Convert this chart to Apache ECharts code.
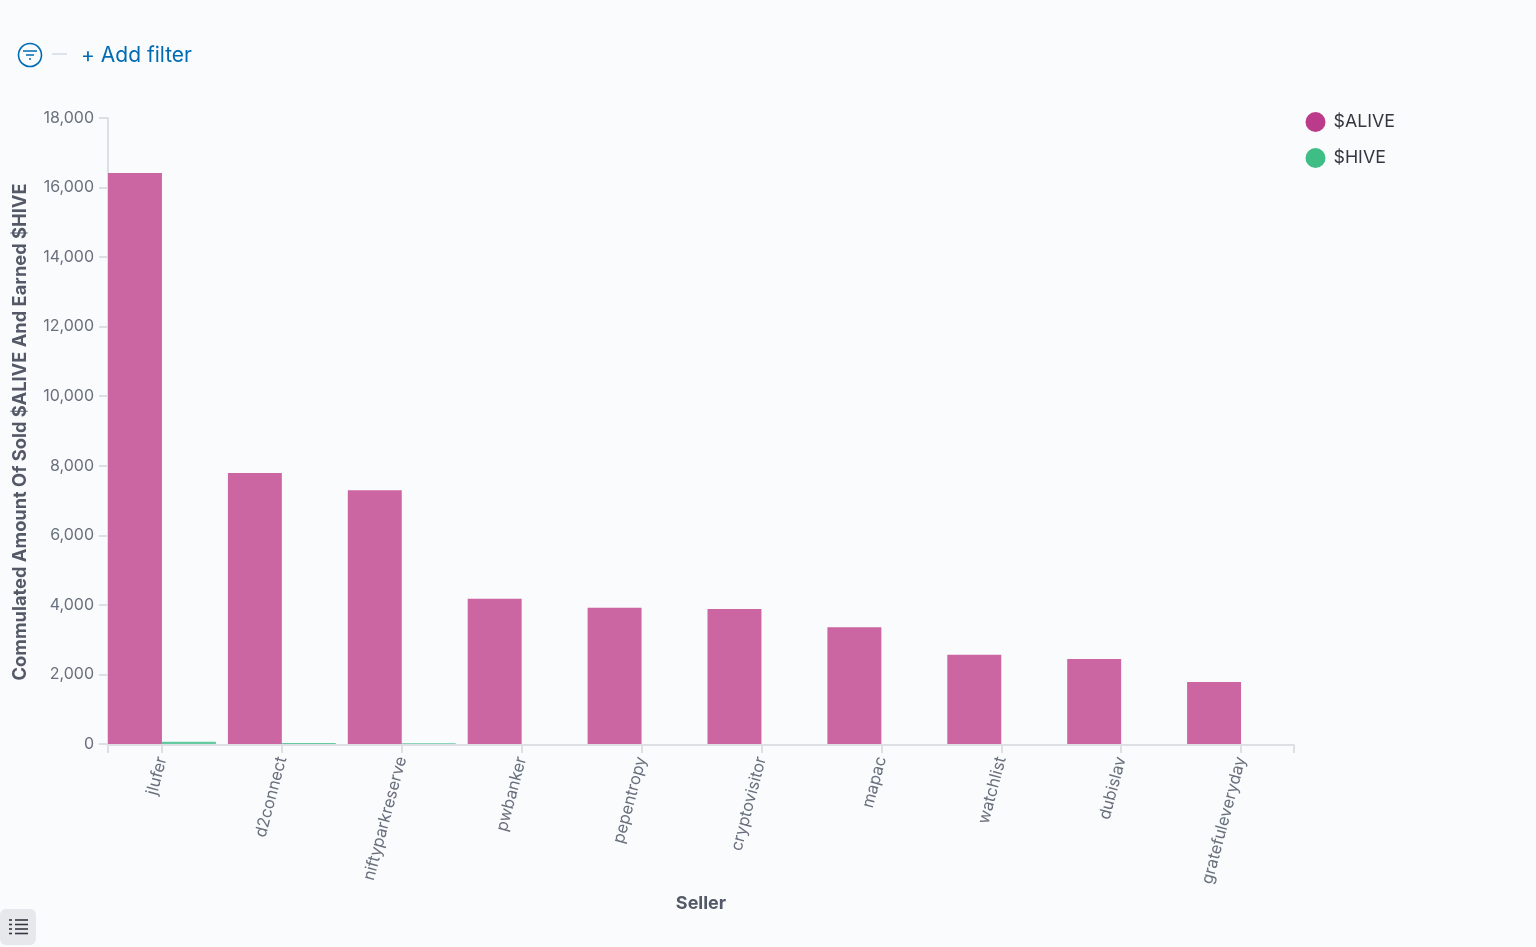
<!DOCTYPE html>
<html>
<head>
    <meta charset="UTF-8"/>
    <title>Sold $ALIVE and earned $HIVE by seller</title>
    <style>
        html, body { margin: 0; padding: 0; background: #FAFBFD; }
        #histogram { width: 1536px; height: 947px; }
    </style>
    <script src="https://cdn.jsdelivr.net/npm/echarts@6/dist/echarts.min.js"></script>
</head>
<body>
<div id="histogram"></div>
<script type="text/javascript">
    var sellers = ['jlufer', 'd2connect', 'niftyparkreserve', 'pwbanker', 'pepentropy', 'cryptovisitor', 'mapac', 'watchlist', 'dubislav', 'gratefuleveryday'];
    var aliveValues = [16420, 7795, 7295, 4175, 3915, 3885, 3360, 2565, 2445, 1785];
    var hiveValues = [62, 30, 24, 2, 2, 2, 2, 1, 1, 1];
    var yTicks = { min: 0, max: 18000, interval: 2000 };

    var axisGrey = '#DCDFE4';
    var labelGrey = '#69707D';
    var titleGrey = '#535966';
    var fontName = 'Inter';

    const chart = echarts.init(document.getElementById('histogram'), null, { renderer: 'canvas' });

    chart.setOption({
        backgroundColor: '#FAFBFD',
        animation: false,
        textStyle: { fontFamily: fontName },
        legend: {
            left: 1300.5,
            top: 107,
            orient: 'vertical',
            icon: 'circle',
            itemWidth: 20,
            itemHeight: 20,
            itemGap: 16,
            textStyle: { fontFamily: fontName, fontSize: 17.8, color: '#343741', padding: [0, 0, 0, 3] },
            data: [
                { name: '$ALIVE', itemStyle: { color: '#BC3A8A' } },
                { name: '$HIVE', itemStyle: { color: '#3EBD85' } }
            ]
        },
        // grid 0 holds the bars, its bands are ~120px wide so groups start at the y axis
        // grid 1 only draws the visible axis frame, which is narrower than the bands
        grid: [
            { left: 102, top: 118, width: 1199, height: 626 },
            { left: 108, top: 118, width: 1186, height: 626 }
        ],
        xAxis: [
            {
                type: 'category',
                gridIndex: 0,
                data: sellers,
                offset: 1,
                axisLine: { show: false, onZero: false },
                axisTick: { show: true, alignWithLabel: true, length: 8, lineStyle: { color: axisGrey, width: 2 } },
                axisLabel: { rotate: 75, interval: 0, margin: 12, fontFamily: fontName, fontSize: 16.4, color: labelGrey }
            },
            {
                type: 'value',
                gridIndex: 1,
                min: 0,
                max: 1,
                interval: 1,
                offset: 1,
                splitLine: { show: false },
                axisLine: { show: true, onZero: false, lineStyle: { color: axisGrey, width: 2 } },
                axisTick: { show: true, length: 8, lineStyle: { color: axisGrey, width: 2 } },
                axisLabel: { show: false },
                name: 'Seller',
                nameLocation: 'middle',
                nameGap: 150,
                nameTextStyle: { fontFamily: fontName, fontSize: 18, fontWeight: 'bold', color: titleGrey }
            }
        ],
        yAxis: [
            {
                type: 'value',
                gridIndex: 0,
                min: yTicks.min,
                max: yTicks.max,
                interval: yTicks.interval,
                show: false
            },
            {
                type: 'value',
                gridIndex: 1,
                min: yTicks.min,
                max: yTicks.max,
                interval: yTicks.interval,
                splitLine: { show: false },
                axisLine: { show: true, onZero: false, lineStyle: { color: axisGrey, width: 2 } },
                axisTick: { show: true, length: 9, lineStyle: { color: axisGrey, width: 2 } },
                axisLabel: { margin: 14, fontFamily: fontName, fontSize: 16, color: labelGrey },
                name: 'Commulated Amount Of Sold $ALIVE And Earned $HIVE',
                nameLocation: 'middle',
                nameGap: 78,
                nameTextStyle: { fontFamily: fontName, fontSize: 18.3, fontWeight: 'bold', color: titleGrey, padding: [0, 2, 0, 0] }
            }
        ],
        series: [
            {
                name: '$ALIVE',
                type: 'bar',
                xAxisIndex: 0,
                yAxisIndex: 0,
                data: aliveValues,
                barGap: 0,
                barCategoryGap: '10%',
                itemStyle: { color: '#CB66A3' }
            },
            {
                name: '$HIVE',
                type: 'bar',
                xAxisIndex: 0,
                yAxisIndex: 0,
                data: hiveValues,
                barGap: 0,
                barCategoryGap: '10%',
                itemStyle: { color: '#65CAA0' }
            }
        ],
        graphic: [
            // filter bar above the chart
            { type: 'circle', shape: { cx: 30, cy: 55, r: 11.5 }, style: { fill: 'none', stroke: '#006BB4', lineWidth: 1.6 } },
            { type: 'line', shape: { x1: 23, y1: 51, x2: 37, y2: 51 }, style: { stroke: '#006BB4', lineWidth: 1.5 } },
            { type: 'line', shape: { x1: 26, y1: 55, x2: 34, y2: 55 }, style: { stroke: '#006BB4', lineWidth: 1.5 } },
            { type: 'line', shape: { x1: 29, y1: 59, x2: 31, y2: 59 }, style: { stroke: '#006BB4', lineWidth: 1.5 } },
            { type: 'line', shape: { x1: 52, y1: 54, x2: 67, y2: 54 }, style: { stroke: '#D3DAE6', lineWidth: 1.5 } },
            { type: 'text', x: 81, y: 56, style: { text: '+ Add filter', fill: '#006BB4', font: '21px Inter', verticalAlign: 'middle' } },
            // legend toggle button, bottom left
            { type: 'rect', shape: { x: 0, y: 909, width: 36, height: 36, r: 6 }, style: { fill: '#E6E8EC' } },
            { type: 'line', shape: { x1: 9, y1: 920, x2: 12, y2: 920 }, style: { stroke: '#343741', lineWidth: 1.6 } },
            { type: 'line', shape: { x1: 15, y1: 920, x2: 28, y2: 920 }, style: { stroke: '#343741', lineWidth: 1.6 } },
            { type: 'line', shape: { x1: 9, y1: 924.5, x2: 12, y2: 924.5 }, style: { stroke: '#343741', lineWidth: 1.6 } },
            { type: 'line', shape: { x1: 15, y1: 924.5, x2: 28, y2: 924.5 }, style: { stroke: '#343741', lineWidth: 1.6 } },
            { type: 'line', shape: { x1: 9, y1: 929, x2: 12, y2: 929 }, style: { stroke: '#343741', lineWidth: 1.6 } },
            { type: 'line', shape: { x1: 15, y1: 929, x2: 28, y2: 929 }, style: { stroke: '#343741', lineWidth: 1.6 } },
            { type: 'line', shape: { x1: 9, y1: 933.5, x2: 12, y2: 933.5 }, style: { stroke: '#343741', lineWidth: 1.6 } },
            { type: 'line', shape: { x1: 15, y1: 933.5, x2: 28, y2: 933.5 }, style: { stroke: '#343741', lineWidth: 1.6 } }
        ]
    });
</script>
</body>
</html>
